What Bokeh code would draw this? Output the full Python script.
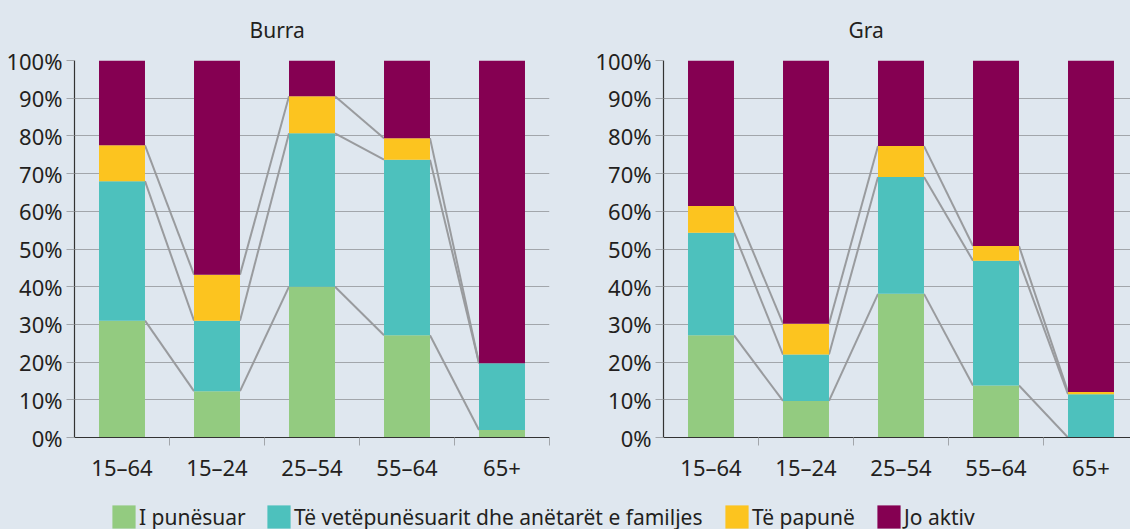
from bokeh.plotting import figure
from bokeh.models import Range1d, FixedTicker, PrintfTickFormatter, Legend, LegendItem
from bokeh.layouts import row, column
from bokeh.embed import file_html
from bokeh.resources import INLINE

# ---------------- data ----------------
panel_titles = ["Burra", "Gra"]
categories = ["15–64", "15–24", "25–54", "55–64", "65+"]
series_names = ["I punësuar", "Të vetëpunësuarit dhe anëtarët e familjes", "Të papunë", "Jo aktiv"]

burra_punesuar = [31.0, 12.3, 40.0, 27.1, 2.0]
burra_vetepunesuar = [37.0, 18.7, 40.7, 46.6, 17.7]
burra_papune = [9.5, 12.2, 9.8, 5.7, 0.0]
burra_joaktiv = [22.5, 56.8, 9.5, 20.6, 80.3]

gra_punesuar = [27.1, 9.7, 38.1, 13.8, 0.0]
gra_vetepunesuar = [27.2, 12.3, 31.0, 33.1, 11.5]
gra_papune = [7.1, 8.2, 8.2, 3.9, 0.6]
gra_joaktiv = [38.6, 69.8, 22.7, 49.2, 87.9]

y_ticks = [0, 10, 20, 30, 40, 50, 60, 70, 80, 90, 100]

# ---------------- style ----------------
BG = "#DFE7EF"
COLORS = ["#93CB80", "#4DC1BD", "#FCC41F", "#850052"]
TEXT = "#231F20"
GRID = "#A2A6AB"
CONNECT = "#999B9E"
FONT = "Noto Sans"
BAR_W = 0.484
H = 484
LEGEND_X = [109, 264, 722, 874]


def make_panel(title, title_offset, series, x_end, width, border_right, minor):
    p = figure(width=width, height=H, x_range=Range1d(0, x_end), y_range=Range1d(0, 100),
               output_backend="svg", toolbar_location=None,
               min_border_left=74, min_border_right=border_right,
               min_border_top=60, min_border_bottom=46)
    p.background_fill_color = BG
    p.border_fill_color = BG
    p.outline_line_color = None

    p.title.text = title
    p.title.align = "left"
    p.title.offset = title_offset
    p.title.vertical_align = "top"
    p.title.standoff = 30
    p.title.text_font = FONT
    p.title.text_font_size = "21px"
    p.title.text_font_style = "normal"
    p.title.text_color = TEXT

    xs = [i + 0.5 for i in range(len(categories))]
    cum = [[0.0] * len(categories)]
    for vals in series:
        cum.append([a + b for a, b in zip(cum[-1], vals)])

    # connector lines between bars
    for k in range(1, len(series)):
        lvl = cum[k]
        p.segment(x0=[x + BAR_W / 2 for x in xs[:-1]], y0=lvl[:-1],
                  x1=[x - BAR_W / 2 for x in xs[1:]], y1=lvl[1:],
                  line_color=CONNECT, line_width=2)

    for j in range(len(series)):
        p.vbar(x=xs, bottom=cum[j], top=cum[j + 1], width=BAR_W,
               fill_color=COLORS[j], line_color=None)

    # grid
    p.xgrid.grid_line_color = None
    p.ygrid.ticker = FixedTicker(ticks=y_ticks)
    p.ygrid.grid_line_color = GRID
    p.ygrid.grid_line_width = 1

    # y axis
    p.yaxis.ticker = FixedTicker(ticks=y_ticks)
    p.yaxis.formatter = PrintfTickFormatter(format="%d%%")
    p.yaxis.axis_line_color = "#333333"
    p.yaxis.axis_line_width = 1.2
    p.yaxis.major_tick_line_color = GRID
    p.yaxis.major_tick_out = 8
    p.yaxis.major_tick_in = 0
    p.yaxis.minor_tick_line_color = None
    p.yaxis.major_label_standoff = 4
    p.yaxis.major_label_text_font = FONT
    p.yaxis.major_label_text_font_size = "22px"
    p.yaxis.major_label_text_color = TEXT

    # x axis
    p.xaxis.ticker = FixedTicker(ticks=xs, minor_ticks=minor)
    p.xaxis.major_label_overrides = {x: c for x, c in zip(xs, categories)}
    p.xaxis.axis_line_color = "#333333"
    p.xaxis.axis_line_width = 1.2
    p.xaxis.major_tick_line_color = None
    p.xaxis.major_tick_out = 8
    p.xaxis.major_tick_in = 0
    p.xaxis.minor_tick_line_color = GRID
    p.xaxis.minor_tick_out = 8
    p.xaxis.minor_tick_in = 0
    p.xaxis.major_label_standoff = 6
    p.xaxis.major_label_text_font = FONT
    p.xaxis.major_label_text_font_size = "22px"
    p.xaxis.major_label_text_color = TEXT
    return p


def strip(height):
    f = figure(width=1130, height=height, x_range=Range1d(0, 1130), y_range=Range1d(0, height),
               output_backend="svg", toolbar_location=None,
               min_border_left=0, min_border_right=0, min_border_top=0, min_border_bottom=0)
    f.axis.visible = False
    f.grid.visible = False
    f.background_fill_color = BG
    f.border_fill_color = BG
    f.outline_line_color = None
    return f


p1 = make_panel(panel_titles[0], 175, [burra_punesuar, burra_vetepunesuar, burra_papune, burra_joaktiv],
                5, 589, 40, [1, 2, 3, 4, 5])
p2 = make_panel(panel_titles[1], 185, [gra_punesuar, gra_vetepunesuar, gra_papune, gra_joaktiv],
                467 / 95.0, 541, 0, [1, 2, 3, 4])

# legend strip: one single-item legend per series
pl = strip(45)
for name, col, lx in zip(series_names, COLORS, LEGEND_X):
    r = pl.rect(x=[-10], y=[-10], width=1, height=1, fill_color=col, line_color=None)
    leg = Legend(items=[LegendItem(label=name, renderers=[r])], location=(lx, -2),
                 glyph_width=29, glyph_height=29, label_standoff=1,
                 padding=0, margin=0, border_line_color=None, background_fill_alpha=0,
                 label_text_font=FONT, label_text_font_size="21px", label_text_color=TEXT)
    pl.add_layout(leg, "center")

layout = column(row(p1, p2), pl)
html = file_html(layout, INLINE)
html = html.replace("</head>", "<style>body{background:#DFE7EF;}</style></head>")
open("out.html", "w").write(html)
